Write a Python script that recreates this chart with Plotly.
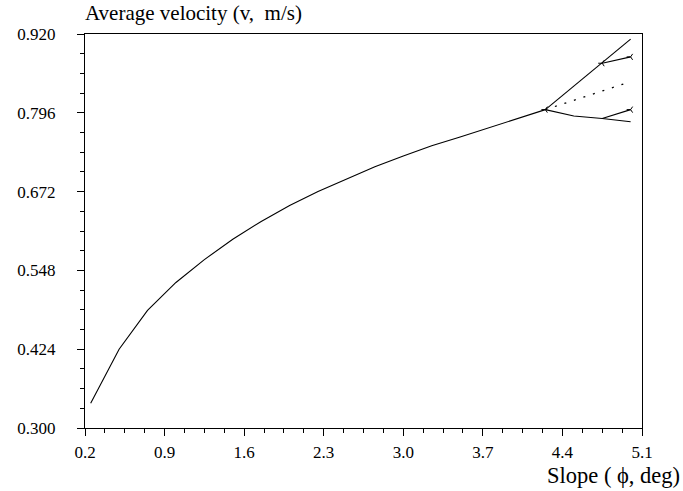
import plotly.graph_objects as go

# main curve: average velocity vs slope
slope = [0.25, 0.5, 0.75, 1.0, 1.25, 1.5, 1.75, 2.0, 2.25, 2.5,
         2.75, 3.0, 3.25, 3.5, 3.75, 4.0, 4.25]
velocity = [0.339, 0.424, 0.485, 0.529, 0.565, 0.597, 0.625, 0.650, 0.672, 0.692,
            0.711, 0.728, 0.744, 0.758, 0.772, 0.786, 0.801]

# branches after the split point
upper_x = [4.25, 4.5, 4.75, 5.0]
upper_v = [0.801, 0.838, 0.874, 0.912]
upper_split_x = [4.75, 5.0]
upper_split_v = [0.874, 0.884]
dotted_x = [4.25, 5.0]
dotted_v = [0.801, 0.845]
lower_x = [4.25, 4.5, 4.75, 5.0]
lower_v = [0.801, 0.791, 0.787, 0.782]
lower_split_x = [4.75, 5.0]
lower_split_v = [0.787, 0.801]

# cap marks at ends / split points
cap_x = [4.25, 4.75, 5.0, 5.0]
cap_v = [0.801, 0.874, 0.884, 0.801]

x_ticks = [0.2, 0.9, 1.6, 2.3, 3.0, 3.7, 4.4, 5.1]
y_ticks = [0.300, 0.424, 0.548, 0.672, 0.796, 0.920]

FONT = "Liberation Serif"
line = dict(color="black", width=1.1)

fig = go.Figure()
fig.add_trace(go.Scatter(x=slope, y=velocity, mode="lines", line=line))
fig.add_trace(go.Scatter(x=upper_x, y=upper_v, mode="lines", line=line))
fig.add_trace(go.Scatter(x=upper_split_x, y=upper_split_v, mode="lines", line=line))
fig.add_trace(go.Scatter(x=lower_x, y=lower_v, mode="lines", line=line))
fig.add_trace(go.Scatter(x=lower_split_x, y=lower_split_v, mode="lines", line=line))
fig.add_trace(go.Scatter(x=dotted_x, y=dotted_v, mode="lines",
                         line=dict(color="black", width=1.3, dash="2px,8px")))
fig.add_trace(go.Scatter(x=cap_x, y=cap_v, mode="markers",
                         marker=dict(symbol="y-left-open", size=5, color="black",
                                     line=dict(color="black", width=1))))

fig.update_layout(
    width=683, height=491,
    margin=dict(l=85, r=41, t=34, b=63),
    plot_bgcolor="white", paper_bgcolor="white",
    showlegend=False,
    font=dict(family=FONT, size=17, color="black"),
    xaxis=dict(
        range=[0.2, 5.1], tickvals=x_ticks, ticktext=[f"{v:.1f}" for v in x_ticks],
        showgrid=False, zeroline=False, showline=True, linecolor="black",
        linewidth=1.3, mirror=True, ticks="outside", ticklen=7, tickwidth=1.3,
        tickcolor="black", ticklabelstandoff=1,
        minor=dict(dtick=0.175, tick0=0.2, ticks="outside", ticklen=4,
                   tickcolor="black", tickwidth=1.3),
    ),
    yaxis=dict(
        range=[0.300, 0.920], tickvals=y_ticks, ticktext=[f"{v:.3f}" for v in y_ticks],
        showgrid=False, zeroline=False, showline=True, linecolor="black",
        linewidth=1.3, mirror=True, ticks="outside", ticklen=7, tickwidth=1.3,
        tickcolor="black", ticklabelstandoff=18,
        minor=dict(dtick=0.031, tick0=0.3, ticks="outside", ticklen=4,
                   tickcolor="black", tickwidth=1.3),
    ),
    annotations=[
        dict(text="Average velocity (v,  m/s)", xref="paper", yref="paper",
             x=0, y=1, xanchor="left", yanchor="middle", yshift=21, xshift=-2,
             showarrow=False, font=dict(family=FONT, size=21)),
        dict(text="Slope ( \u03d5, deg)", xref="paper", yref="paper",
             x=1, y=0, xanchor="right", yanchor="middle", xshift=40, yshift=-47,
             showarrow=False, font=dict(family=FONT, size=22.5)),
    ],
)

# drop the default 8px page margin so the figure sits at the window corner
fig.write_html("out.html", config={"displayModeBar": False},
               post_script="document.body.style.margin='0';")
